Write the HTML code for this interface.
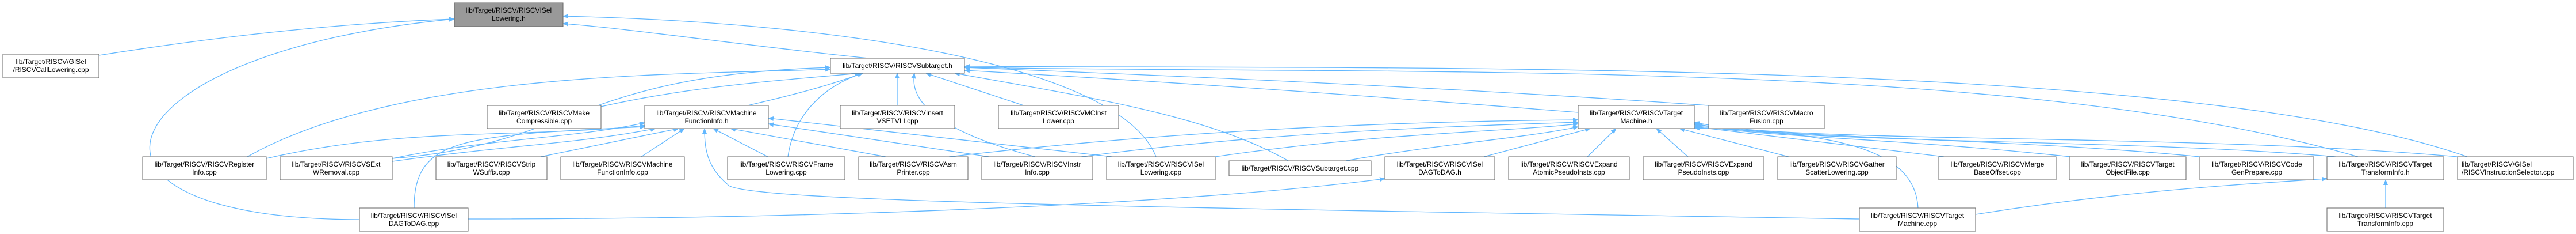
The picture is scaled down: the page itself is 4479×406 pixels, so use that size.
<!DOCTYPE html>
<html><head><meta charset="utf-8"><style>
html,body{margin:0;padding:0;background:#fff;}
svg{display:block;}
text{font-family:"Liberation Sans",sans-serif;font-size:12px;fill:#000;}
.n{fill:#fff;stroke:#666;stroke-width:1;}
.e{fill:none;stroke:#63b8ff;stroke-width:1.3;}
</style></head><body>
<svg width="4479" height="406" viewBox="0 0 4479 406" xmlns="http://www.w3.org/2000/svg">
<defs><marker id="a" markerWidth="10" markerHeight="8" refX="9" refY="4" orient="auto" markerUnits="userSpaceOnUse"><path d="M0,0 L10,4 L0,8 z" fill="#63b8ff"/></marker></defs>
<g class="e" marker-end="url(#a)">
<path d="M172,96 C400,60 600,40 790,33"/>
<path d="M625,381 C60,380 180,90 790,33"/>
<path d="M1510,101 C1300,80 1100,50 979,41"/>
<path d="M2010,272 C1950,120 1500,40 979,28"/>
<path d="M1045,185 C1200,150 1350,140 1495,127"/>
<path d="M1300,183 C1400,160 1450,145 1500,127"/>
<path d="M430,272 C700,120 1200,130 1444,120"/>
<path d="M682,275 C1000,250 1000,130 1444,117"/>
<path d="M1560,183 L1560,127"/>
<path d="M1780,183 L1610,127"/>
<path d="M1370,272 C1380,200 1430,150 1500,127"/>
<path d="M1800,272 C1640,230 1580,180 1590,127"/>
<path d="M2240,279 C2100,200 1900,170 1660,127"/>
<path d="M2744,195 C2300,160 2000,140 1677,122"/>
<path d="M2971,183 C2500,150 2000,130 1677,117"/>
<path d="M4100,272 C3500,100 2500,130 1677,117"/>
<path d="M4290,272 C3800,100 2500,120 1677,115"/>
<path d="M463,275 C700,220 900,240 1121,218"/>
<path d="M682,275 C850,240 1000,240 1121,213"/>
<path d="M682,280 C900,250 1000,250 1140,223"/>
<path d="M940,272 L1180,223"/>
<path d="M1115,272 L1190,223"/>
<path d="M1335,272 L1240,223"/>
<path d="M1540,272 L1270,223"/>
<path d="M1740,275 L1336,215"/>
<path d="M1960,275 L1336,205"/>
<path d="M720,361 C720,240 800,235 1121,220"/>
<path d="M3233,380 C2000,360 1280,350 1265,320 C1230,290 1225,260 1225,223"/>
<path d="M1650,272 C2100,220 2500,210 2744,208"/>
<path d="M1880,272 C2200,230 2500,220 2744,212"/>
<path d="M2113,272 C2400,230 2600,230 2744,215"/>
<path d="M2340,279 C2500,250 2650,240 2744,220"/>
<path d="M2580,272 L2765,223"/>
<path d="M2760,272 L2810,223"/>
<path d="M2935,272 L2880,223"/>
<path d="M3110,272 L2920,223"/>
<path d="M3380,272 L2946,220"/>
<path d="M3600,272 C3300,240 3100,240 2946,218"/>
<path d="M3825,272 C3500,240 3100,240 2946,216"/>
<path d="M4061,272 C3700,240 3100,250 2946,214"/>
<path d="M4273,272 C3800,230 3100,250 2946,212"/>
<path d="M3335,361 C3330,260 3200,230 2946,222"/>
<path d="M814,380 C1500,380 2100,350 2408,310"/>
<path d="M4148,361 L4148,312"/>
<path d="M3435,372 C3700,330 3900,320 4046,310"/>
</g>
<g>
<rect x="790" y="5" width="189" height="41" fill="#999" stroke="#666"/>
<text x="884.5" y="22" text-anchor="middle">lib/Target/RISCV/RISCVISel</text><text x="884.5" y="36" text-anchor="middle">Lowering.h</text>
<rect class="n" x="5" y="94" width="167" height="41"/><text x="88.5" y="111" text-anchor="middle">lib/Target/RISCV/GISel</text><text x="88.5" y="125" text-anchor="middle">/RISCVCallLowering.cpp</text>
<rect class="n" x="1444" y="101" width="233" height="26"/><text x="1560.5" y="118" text-anchor="middle">lib/Target/RISCV/RISCVSubtarget.h</text>
<rect class="n" x="847" y="183" width="198" height="40"/><text x="946" y="200" text-anchor="middle">lib/Target/RISCV/RISCVMake</text><text x="946" y="214" text-anchor="middle">Compressible.cpp</text>
<rect class="n" x="1121" y="183" width="215" height="40"/><text x="1228.5" y="200" text-anchor="middle">lib/Target/RISCV/RISCVMachine</text><text x="1228.5" y="214" text-anchor="middle">FunctionInfo.h</text>
<rect class="n" x="1461" y="183" width="199" height="40"/><text x="1560.5" y="200" text-anchor="middle">lib/Target/RISCV/RISCVInsert</text><text x="1560.5" y="214" text-anchor="middle">VSETVLI.cpp</text>
<rect class="n" x="1736" y="183" width="209" height="40"/><text x="1840.5" y="200" text-anchor="middle">lib/Target/RISCV/RISCVMCInst</text><text x="1840.5" y="214" text-anchor="middle">Lower.cpp</text>
<rect class="n" x="2744" y="183" width="202" height="40"/><text x="2845" y="200" text-anchor="middle">lib/Target/RISCV/RISCVTarget</text><text x="2845" y="214" text-anchor="middle">Machine.h</text>
<rect class="n" x="2971" y="183" width="201" height="40"/><text x="3071.5" y="200" text-anchor="middle">lib/Target/RISCV/RISCVMacro</text><text x="3071.5" y="214" text-anchor="middle">Fusion.cpp</text>
<rect class="n" x="248" y="272" width="215" height="40"/><text x="355.5" y="289" text-anchor="middle">lib/Target/RISCV/RISCVRegister</text><text x="355.5" y="303" text-anchor="middle">Info.cpp</text>
<rect class="n" x="487" y="272" width="195" height="40"/><text x="584.5" y="289" text-anchor="middle">lib/Target/RISCV/RISCVSExt</text><text x="584.5" y="303" text-anchor="middle">WRemoval.cpp</text>
<rect class="n" x="758" y="272" width="193" height="40"/><text x="854.5" y="289" text-anchor="middle">lib/Target/RISCV/RISCVStrip</text><text x="854.5" y="303" text-anchor="middle">WSuffix.cpp</text>
<rect class="n" x="975" y="272" width="215" height="40"/><text x="1082.5" y="289" text-anchor="middle">lib/Target/RISCV/RISCVMachine</text><text x="1082.5" y="303" text-anchor="middle">FunctionInfo.cpp</text>
<rect class="n" x="1265" y="272" width="204" height="40"/><text x="1367" y="289" text-anchor="middle">lib/Target/RISCV/RISCVFrame</text><text x="1367" y="303" text-anchor="middle">Lowering.cpp</text>
<rect class="n" x="1493" y="272" width="190" height="40"/><text x="1588" y="289" text-anchor="middle">lib/Target/RISCV/RISCVAsm</text><text x="1588" y="303" text-anchor="middle">Printer.cpp</text>
<rect class="n" x="1707" y="272" width="193" height="40"/><text x="1803.5" y="289" text-anchor="middle">lib/Target/RISCV/RISCVInstr</text><text x="1803.5" y="303" text-anchor="middle">Info.cpp</text>
<rect class="n" x="1924" y="272" width="189" height="40"/><text x="2018.5" y="289" text-anchor="middle">lib/Target/RISCV/RISCVISel</text><text x="2018.5" y="303" text-anchor="middle">Lowering.cpp</text>
<rect class="n" x="2137" y="279" width="247" height="26"/><text x="2260.5" y="296" text-anchor="middle">lib/Target/RISCV/RISCVSubtarget.cpp</text>
<rect class="n" x="2408" y="272" width="191" height="40"/><text x="2503.5" y="289" text-anchor="middle">lib/Target/RISCV/RISCVISel</text><text x="2503.5" y="303" text-anchor="middle">DAGToDAG.h</text>
<rect class="n" x="2623" y="272" width="210" height="40"/><text x="2728" y="289" text-anchor="middle">lib/Target/RISCV/RISCVExpand</text><text x="2728" y="303" text-anchor="middle">AtomicPseudoInsts.cpp</text>
<rect class="n" x="2857" y="272" width="210" height="40"/><text x="2962" y="289" text-anchor="middle">lib/Target/RISCV/RISCVExpand</text><text x="2962" y="303" text-anchor="middle">PseudoInsts.cpp</text>
<rect class="n" x="3091" y="272" width="206" height="40"/><text x="3194" y="289" text-anchor="middle">lib/Target/RISCV/RISCVGather</text><text x="3194" y="303" text-anchor="middle">ScatterLowering.cpp</text>
<rect class="n" x="3371" y="272" width="204" height="40"/><text x="3473" y="289" text-anchor="middle">lib/Target/RISCV/RISCVMerge</text><text x="3473" y="303" text-anchor="middle">BaseOffset.cpp</text>
<rect class="n" x="3598" y="272" width="203" height="40"/><text x="3699.5" y="289" text-anchor="middle">lib/Target/RISCV/RISCVTarget</text><text x="3699.5" y="303" text-anchor="middle">ObjectFile.cpp</text>
<rect class="n" x="3825" y="272" width="198" height="40"/><text x="3924" y="289" text-anchor="middle">lib/Target/RISCV/RISCVCode</text><text x="3924" y="303" text-anchor="middle">GenPrepare.cpp</text>
<rect class="n" x="4046" y="272" width="203" height="40"/><text x="4147.5" y="289" text-anchor="middle">lib/Target/RISCV/RISCVTarget</text><text x="4147.5" y="303" text-anchor="middle">TransformInfo.h</text>
<rect class="n" x="4273" y="272" width="201" height="40"/><text x="4280" y="289">lib/Target/RISCV/GISel</text><text x="4280" y="303">/RISCVInstructionSelector.cpp</text>
<rect class="n" x="625" y="361" width="189" height="40"/><text x="719.5" y="378" text-anchor="middle">lib/Target/RISCV/RISCVISel</text><text x="719.5" y="392" text-anchor="middle">DAGToDAG.cpp</text>
<rect class="n" x="3233" y="361" width="202" height="40"/><text x="3334" y="378" text-anchor="middle">lib/Target/RISCV/RISCVTarget</text><text x="3334" y="392" text-anchor="middle">Machine.cpp</text>
<rect class="n" x="4046" y="361" width="203" height="40"/><text x="4147.5" y="378" text-anchor="middle">lib/Target/RISCV/RISCVTarget</text><text x="4147.5" y="392" text-anchor="middle">TransformInfo.cpp</text>
</g>
</svg>
</body></html>
